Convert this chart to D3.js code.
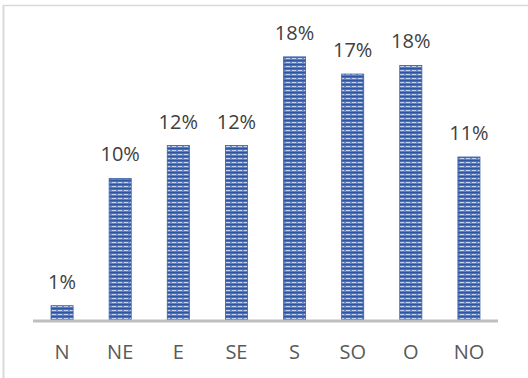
<!DOCTYPE html>
<html>
<head>
<meta charset="utf-8">
<script src="https://cdn.jsdelivr.net/npm/d3@7"></script>
<style>
  html, body { margin: 0; padding: 0; background: #ffffff; }
  svg { display: block; }
</style>
</head>
<body>
<svg id="chart" width="528" height="378"></svg>
<script>
// Wind direction shares (%)
const directions = ["N", "NE", "E", "SE", "S", "SO", "O", "NO"];
const shares = [1.0, 9.9, 12.2, 12.2, 18.4, 17.2, 17.8, 11.4];

const W = 528, H = 378;
const plot = { left: 33, right: 498, top: 34, bottom: 320 };
const FONT = "'Open Sans', 'Liberation Sans', sans-serif";

const svg = d3.select("#chart");

// Striped fill for the bars
const defs = svg.append("defs");
const pat = defs.append("pattern")
  .attr("id", "stripes")
  .attr("patternUnits", "userSpaceOnUse")
  .attr("width", 6).attr("height", 4);
pat.append("rect").attr("x", 0).attr("y", 0).attr("width", 6).attr("height", 4).attr("fill", "#7896d0");
pat.append("rect").attr("x", 0).attr("y", 0).attr("width", 6).attr("height", 1).attr("fill", "#2f55a0");
pat.append("rect").attr("x", 0).attr("y", 1).attr("width", 6).attr("height", 1).attr("fill", "#4b70ba");
pat.append("rect").attr("x", 0).attr("y", 2).attr("width", 6).attr("height", 1).attr("fill", "#c6d4ee");
pat.append("rect").attr("x", 2).attr("y", 2).attr("width", 2).attr("height", 1).attr("fill", "#6a8cce");
pat.append("rect").attr("x", 0).attr("y", 3).attr("width", 6).attr("height", 1).attr("fill", "#5a7fc6");

// Frame (top and left edges)
svg.append("line")
  .attr("x1", 3).attr("x2", W).attr("y1", 5.5).attr("y2", 5.5)
  .attr("stroke", "#d9d9d9").attr("stroke-width", 1.5);
svg.append("line")
  .attr("x1", 3.5).attr("x2", 3.5).attr("y1", 5).attr("y2", H)
  .attr("stroke", "#d9d9d9").attr("stroke-width", 2);

const x = d3.scaleBand()
  .domain(directions)
  .range([plot.left, plot.right])
  .paddingInner(0.62)
  .paddingOuter(0.31);

const y = d3.scaleLinear()
  .domain([0, 20])
  .range([plot.bottom, plot.top]);

const data = directions.map((d, i) => ({ dir: d, v: shares[i] }));

// Bars
svg.append("g").selectAll("rect")
  .data(data)
  .join("rect")
  .attr("x", d => x(d.dir))
  .attr("y", d => y(d.v))
  .attr("width", x.bandwidth())
  .attr("height", d => y(0) - y(d.v))
  .attr("fill", "url(#stripes)")
  .attr("stroke", "#3a5fa6")
  .attr("stroke-width", 0.8);

// Category axis
const xAxis = svg.append("g")
  .attr("transform", `translate(0,${plot.bottom + 1})`)
  .call(d3.axisBottom(x).tickSize(0).tickPadding(24));
xAxis.select(".domain")
  .attr("d", `M${plot.left},0H${plot.right}`)
  .attr("stroke", "#bfbfbf")
  .attr("stroke-width", 3);
xAxis.selectAll("text")
  .attr("font-family", FONT)
  .attr("font-size", 20)
  .attr("fill", "#595959");

// Value labels
svg.append("g").selectAll("text")
  .data(data)
  .join("text")
  .attr("x", d => x(d.dir) + x.bandwidth() / 2)
  .attr("y", d => y(d.v) - 17)
  .attr("text-anchor", "middle")
  .attr("font-family", FONT)
  .attr("font-size", 20)
  .attr("fill", "#404040")
  .text(d => Math.round(d.v) + "%");
</script>
</body>
</html>
